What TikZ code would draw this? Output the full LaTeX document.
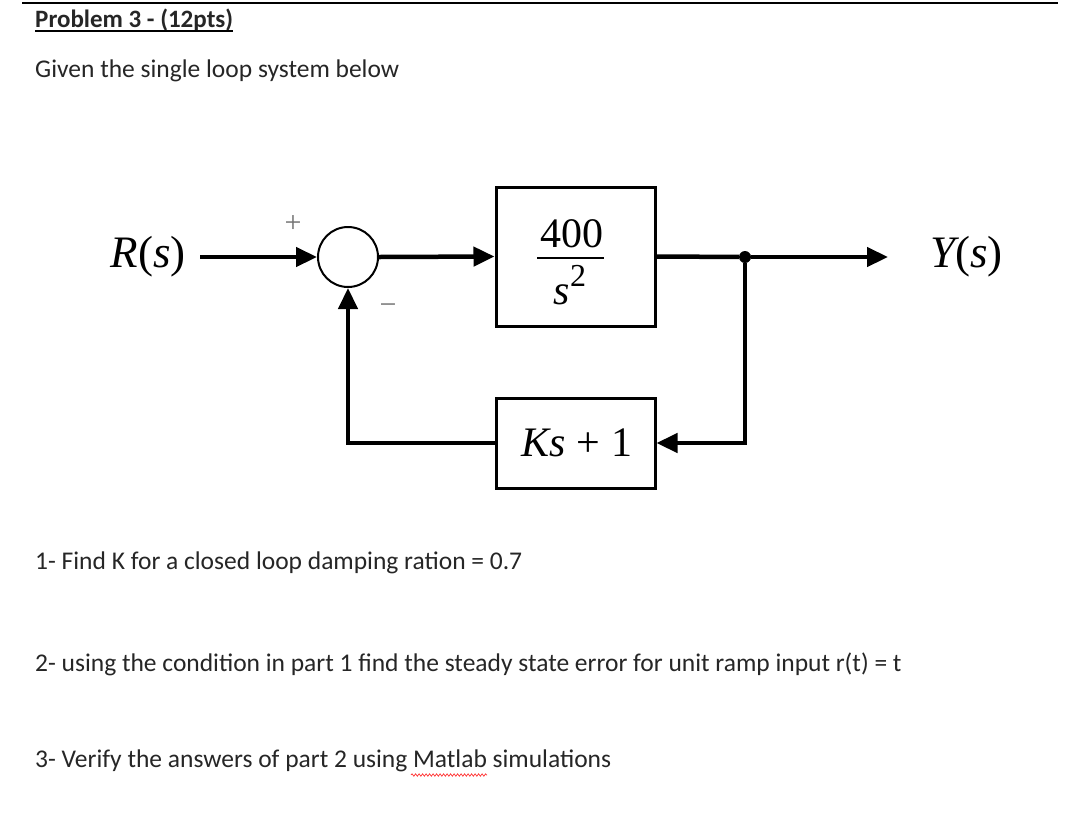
\documentclass[tikz,border=0pt]{standalone}
\usepackage{fontspec}
\setmainfont{Carlito}
\newfontfamily\tnr{Liberation Serif}
\usetikzlibrary{arrows.meta,decorations.pathmorphing}
\begin{document}
\begin{tikzpicture}[x=1pt,y=-1pt,
  txt/.style={anchor=base west,inner sep=0pt,font=\fontsize{25.5}{30}\selectfont,text=black!85},
  blk/.style={draw,line width=3pt,minimum width=159pt,inner sep=0pt},
  sig/.style={line width=4.5pt,-{Triangle[length=21pt,width=19pt]}},
  wire/.style={line width=4.5pt},
  dia/.style={font=\tnr\fontsize{42}{46}\selectfont,inner sep=0pt},
  sgn/.style={font=\tnr\fontsize{30}{32}\selectfont,text=black!55,inner sep=0pt}]
\useasboundingbox (0,0) rectangle (1080,831);
\fill[white] (0,0) rectangle (1080,831);
% header
\draw[line width=2pt] (22,3) -- (1058,3);
\node[txt,font=\bfseries\fontsize{25}{30}\selectfont] (title) at (35,27) {Problem 3 - (12pts)};
\draw[line width=1.8pt] ([yshift=-4pt]title.base west) -- ([yshift=-4pt]title.base east);
\node[txt] (given) at (35,77) {Given the single loop system below};
% diagram
\node[dia,anchor=east,font=\tnr\fontsize{45}{48}\selectfont] (R) at (186,257) {\itshape R\upshape(\itshape s\upshape)};
\node[circle,draw,line width=2pt,minimum size=60pt,inner sep=0pt] (sum) at (348,257) {};
\node[sgn] (plus) at (293,224) {+};
\node[sgn,anchor=base] (minus) at (388,314) {−};
\node[blk,minimum height=139pt] (G) at (575.5,256.5) {};
\node[dia] (num) at (572,234) {400};
\draw[line width=2.5pt] (537,258) -- (604,258);
\node[dia] (den) at (570,285) {\itshape s\upshape\raisebox{0.42em}{\fontsize{32}{32}\selectfont 2}};
\node[blk,minimum height=90pt] (H) at (575.5,443) {};
\node[dia] (hl) at (577,443) {\itshape Ks\upshape\ + 1};
\node[circle,fill,inner sep=0pt,minimum size=12pt] (dot) at (745,257) {};
\node[dia,anchor=west,font=\tnr\fontsize{45}{48}\selectfont] (Y) at (930,257) {\itshape Y\upshape(\itshape s\upshape)};
\draw[sig] ([xshift=14pt]R.east) -- (sum.west);
\draw[sig] (sum.east) -- (G.west);
\draw[wire] (G.east) -- (dot);
\draw[sig] (dot) -- ([xshift=-42pt]Y.west);
\draw[sig] (dot) |- (H.east);
\draw[sig] (H.west) -| (sum.south);
% questions
\node[txt] (q1) at (35,569) {1- Find K for a closed loop damping ration = 0.7};
\node[txt] (q2) at (35,671) {2- using the condition in part 1 find the steady state error for unit ramp input r(t) = t};
\node[txt] (q3) at (35,767) {3- Verify the answers of part 2 using Matlab simulations};
\draw[red!80,line width=0.7pt,decorate,decoration={snake,amplitude=1.2pt,segment length=3.5pt}] (411,775) -- (487,775);
\end{tikzpicture}
\end{document}
